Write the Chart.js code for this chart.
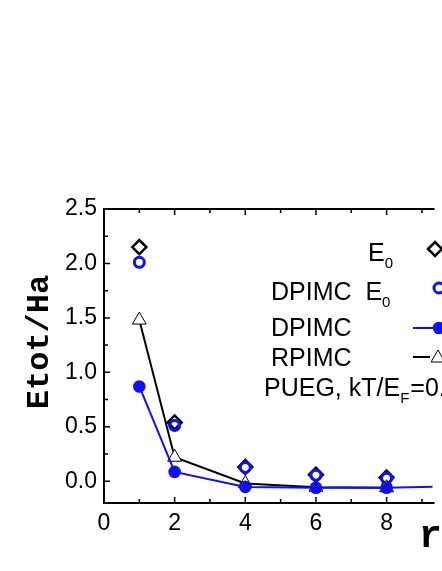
<!DOCTYPE html>
<html>
<head>
<meta charset="utf-8">
<script src="https://cdn.jsdelivr.net/npm/chart.js@4"></script>
<style>
  html, body { margin:0; padding:0; background:#fff; overflow:hidden; }
  #wrap { width:442px; height:571px; position:relative; }
</style>
</head>
<body>
<div id="wrap"><canvas id="chart" width="442" height="571"></canvas></div>
<script>
// ── Data ───────────────────────────────────────────
const RS_E0      = [1, 2, 4, 6, 8];
const E0         = [2.15, 0.54, 0.13, 0.06, 0.034];
const RS_DPE0    = [1, 2, 4, 6, 8];
const DPIMC_E0   = [2.01, 0.512, 0.126, 0.055, 0.028];
const RS_DPIMC   = [1, 2, 4, 6, 8, 10];
const DPIMC      = [0.87, 0.086, -0.052, -0.06, -0.06, -0.045];
const RS_RPIMC   = [1, 2, 4, 6, 8];
const RPIMC      = [1.48, 0.22, -0.02, -0.055, -0.06];

const X_TICKS       = [0, 2, 4, 6, 8];
const X_MINOR_TICKS = [1, 3, 5, 7, 9];
const Y_TICKS       = [0.0, 0.5, 1.0, 1.5, 2.0, 2.5];
const Y_MINOR_TICKS = [0.25, 0.75, 1.25, 1.75, 2.25];

const BLUE = "#1010f0";
const SANS = "'Liberation Sans', Arial, sans-serif";
const MONO = "'Liberation Mono', 'Courier New', monospace";

const pts = (xs, ys) => xs.map((x, i) => ({ x, y: ys[i] }));

// ── Frame, inward ticks, axis titles, legend ───────
const framePlugin = {
  id: "frame",
  afterDraw(chart) {
    const { ctx, chartArea: a, scales: { x, y } } = chart;
    ctx.save();
    ctx.strokeStyle = "#000";
    ctx.lineWidth = 2;
    ctx.beginPath();
    ctx.moveTo(a.left, a.top); ctx.lineTo(a.right + 2, a.top);
    ctx.moveTo(a.left, a.top - 1); ctx.lineTo(a.left, a.bottom + 1);
    ctx.moveTo(a.left - 1, a.bottom); ctx.lineTo(a.right + 2, a.bottom);
    ctx.stroke();

    ctx.lineWidth = 1.5;
    ctx.beginPath();
    const xt = (v, len) => {
      const px = x.getPixelForValue(v);
      ctx.moveTo(px, a.bottom); ctx.lineTo(px, a.bottom - len);
      ctx.moveTo(px, a.top); ctx.lineTo(px, a.top + len);
    };
    const yt = (v, len) => {
      const py = y.getPixelForValue(v);
      ctx.moveTo(a.left, py); ctx.lineTo(a.left + len, py);
    };
    X_TICKS.forEach(v => xt(v, 6));
    X_MINOR_TICKS.forEach(v => xt(v, 4));
    Y_TICKS.forEach(v => yt(v, 6));
    Y_MINOR_TICKS.forEach(v => yt(v, 4));
    ctx.stroke();

    // axis titles
    ctx.fillStyle = "#000";
    ctx.font = "bold 32px " + MONO;
    ctx.textAlign = "center";
    ctx.textBaseline = "middle";
    ctx.save();
    ctx.translate(a.left - 64, a.top + 133);
    ctx.rotate(-Math.PI / 2);
    ctx.fillText("Etot/Ha", 0, 0);
    ctx.restore();

    ctx.textAlign = "left";
    ctx.textBaseline = "alphabetic";
    ctx.font = "bold 38px " + MONO;
    ctx.fillText("r", a.left + 315, a.bottom + 44);
    const rw = ctx.measureText("r").width;
    ctx.font = "bold 22px " + MONO;
    ctx.fillText("s", a.left + 316 + rw, a.bottom + 52);

    // legend
    const big = "25px " + SANS, small = "15px " + SANS;
    const put = (parts, x0, base) => {
      let cx = x0;
      parts.forEach(([t, sub]) => {
        ctx.font = sub ? small : big;
        ctx.fillText(t, cx, base + (sub ? 7 : 0));
        cx += ctx.measureText(t).width + (sub ? 1 : 0);
      });
    };
    const L = a.left, T = a.top;
    put([["E"], ["0", 1]], L + 264, T + 52);
    put([["DPIMC  E"], ["0", 1]], L + 167, T + 91);
    put([["DPIMC"]], L + 167, T + 127);
    put([["RPIMC"]], L + 167, T + 157);
    put([["PUEG, kT/E"], ["F", 1], ["=0.5"]], L + 160, T + 187);

    const mx = L + 333;
    ctx.fillStyle = "rgba(0,0,0,0)";
    ctx.strokeStyle = "#000"; ctx.lineWidth = 2.5;
    Chart.helpers.drawPoint(ctx, { pointStyle: "rectRot", radius: 7, borderWidth: 2.5 }, mx - 2, T + 40);
    ctx.strokeStyle = BLUE; ctx.lineWidth = 3;
    Chart.helpers.drawPoint(ctx, { pointStyle: "circle", radius: 5, borderWidth: 3 }, mx + 2, T + 79);
    ctx.lineWidth = 2;
    ctx.beginPath(); ctx.moveTo(L + 309, T + 119); ctx.lineTo(mx, T + 119); ctx.stroke();
    ctx.fillStyle = BLUE;
    Chart.helpers.drawPoint(ctx, { pointStyle: "circle", radius: 6.3, borderWidth: 0 }, mx + 2, T + 119);
    ctx.strokeStyle = "#000"; ctx.lineWidth = 2;
    ctx.beginPath(); ctx.moveTo(L + 309, T + 148); ctx.lineTo(L + 326, T + 148); ctx.stroke();
    ctx.fillStyle = "#fff"; ctx.lineWidth = 1;
    Chart.helpers.drawPoint(ctx, { pointStyle: "triangle", radius: 8, borderWidth: 1 }, mx + 1, T + 149);
    ctx.restore();
  }
};

new Chart(document.getElementById("chart"), {
  type: "line",
  data: {
    datasets: [
      {
        label: "RPIMC",
        data: pts(RS_RPIMC, RPIMC),
        borderColor: "#000", borderWidth: 2,
        pointStyle: "triangle", pointRadius: 8,
        pointBackgroundColor: "#fff", pointBorderColor: "#000", pointBorderWidth: 1,
        order: 4,
      },
      {
        label: "DPIMC",
        data: pts(RS_DPIMC, DPIMC),
        borderColor: BLUE, borderWidth: 2,
        pointStyle: "circle", pointRadius: 6.3,
        pointBackgroundColor: BLUE, pointBorderColor: BLUE, pointBorderWidth: 0,
        order: 3,
      },
      {
        label: "E0",
        data: pts(RS_E0, E0),
        showLine: false,
        pointStyle: "rectRot", pointRadius: 7,
        pointBackgroundColor: "rgba(0,0,0,0)", pointBorderColor: "#000", pointBorderWidth: 2.5,
        order: 2,
      },
      {
        label: "DPIMC E0",
        data: pts(RS_DPE0, DPIMC_E0),
        showLine: false,
        pointStyle: "circle", pointRadius: 5,
        pointBackgroundColor: "rgba(0,0,0,0)", pointBorderColor: BLUE, pointBorderWidth: 3,
        order: 1,
      },
    ],
  },
  options: {
    responsive: false,
    animation: false,
    events: [],
    layout: { padding: { top: 209, left: 0, right: 0, bottom: 0 } },
    plugins: { legend: { display: false }, tooltip: { enabled: false } },
    scales: {
      x: {
        type: "linear", min: 0, max: 9.3,
        grid: { display: false, drawTicks: false },
        border: { display: false },
        afterFit: s => { s.height = 68; },
        afterBuildTicks: s => { s.ticks = X_TICKS.map(v => ({ value: v })); },
        ticks: { color: "#000", padding: 7, font: { family: SANS, size: 23 }, callback: v => String(v), maxRotation: 0 },
      },
      y: {
        type: "linear", min: -0.2, max: 2.5,
        grid: { display: false, drawTicks: false },
        border: { display: false },
        afterFit: s => { s.width = 104; },
        afterBuildTicks: s => { s.ticks = Y_TICKS.map(v => ({ value: v })); },
        ticks: { color: "#000", padding: 7, font: { family: SANS, size: 23 }, callback: v => v.toFixed(1) },
      },
    },
  },
  plugins: [framePlugin],
});
</script>
</body>
</html>
